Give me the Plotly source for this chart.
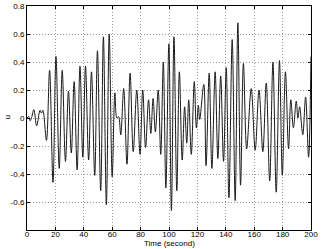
import plotly.graph_objects as go

# extrema of the response (time in s, u)
time = [
    0, 1.2, 2.2, 3.3, 4.8, 6.8, 9.2, 10.2, 11.2, 13.7,
    15.9, 18.3, 20.4, 22.7, 24.8, 27.1, 29.2, 31.2, 33.2, 35.3,
    37.3, 39.3, 41.2, 43.4, 45.4, 47.7, 49.6, 51.9, 53.8, 55.9,
    57.9, 60.0, 61.9, 63.3, 64.5, 66.0, 68.1, 70.4, 72.6, 74.8,
    77.3, 79.6, 81.5, 83.5, 85.6, 87.2, 88.8, 90.4, 92.4, 94.2,
    96.0, 97.8, 99.9, 101.7, 103.5, 105.5, 107.3, 109.3, 111.0, 112.5,
    113.9, 115.7, 117.8, 119.3, 120.7, 121.6, 124.5, 126.1, 128.3, 130.2,
    132.5, 134.4, 136.4, 138.4, 140.3, 142.2, 144.5, 146.6, 148.5, 150.4,
    152.4, 154.7, 157.9, 160.7, 163.4, 166.1, 168.5, 170.9, 173.2, 175.5,
    177.8, 179.8, 182.0, 184.2, 185.8, 187.6, 189.6, 190.8, 192.0, 194.2,
    196.2, 198.3, 200.0,
]
u = [
    0, 0.01, -0.02, 0.005, 0.06, -0.055, 0.055, 0.035, 0.055, -0.16,
    0.34, -0.46, 0.44, -0.36, 0.34, -0.31, 0.19, -0.25, 0.26, -0.37,
    0.37, -0.28, 0.37, -0.30, 0.33, -0.41, 0.48, -0.52, 0.58, -0.62,
    0.60, -0.42, 0.18, 0.0, 0.01, -0.12, 0.21, -0.33, 0.32, -0.24,
    0.20, -0.26, 0.20, -0.21, 0.13, -0.11, 0.14, -0.10, 0.20, -0.26,
    0.40, -0.50, 0.53, -0.66, 0.58, -0.52, 0.33, -0.30, 0.08, -0.18,
    0.13, -0.26, 0.26, -0.07, 0.09, -0.01, 0.24, -0.34, 0.32, -0.36,
    0.33, -0.29, 0.30, -0.31, 0.36, -0.57, 0.56, -0.59, 0.68, -0.48,
    0.39, -0.22, 0.21, -0.23, 0.20, -0.24, 0.25, -0.45, 0.40, -0.53,
    0.41, -0.41, 0.33, -0.22, 0.13, -0.07, 0.12, 0.0, 0.08, -0.12,
    0.15, -0.28, 0.44,
]

x_ticks = [0, 20, 40, 60, 80, 100, 120, 140, 160, 180, 200]
y_ticks = [-0.6, -0.4, -0.2, 0, 0.2, 0.4, 0.6, 0.8]
y_labels = ["-0.6", "-0.4", "-0.2", "0", "0.2", "0.4", "0.6", "0.8"]

fig = go.Figure()
fig.add_trace(
    go.Scatter(
        x=time,
        y=u,
        mode="lines",
        line=dict(color="#1a1a1a", width=1, shape="spline", smoothing=1),
        showlegend=False,
    )
)

axis_style = dict(
    showline=True,
    linecolor="black",
    linewidth=1,
    mirror="ticks",
    ticks="inside",
    ticklen=3,
    tickcolor="black",
    showgrid=True,
    gridcolor="#9a9a9a",
    griddash="1px,2px",
    gridwidth=1,
    zeroline=False,
    automargin=False,
    tickfont=dict(size=8, color="black"),
)

fig.update_layout(
    width=321,
    height=249,
    margin=dict(l=27, r=10, t=6, b=19),
    paper_bgcolor="white",
    plot_bgcolor="white",
    font=dict(family="Liberation Sans, Arial, sans-serif", size=8, color="black"),
)
fig.update_xaxes(range=[0, 200], tickvals=x_ticks, ticklabelstandoff=-4, **axis_style)
fig.update_yaxes(range=[-0.8, 0.8], tickvals=y_ticks, ticktext=y_labels, **axis_style)

# axis titles placed as annotations so they sit where the reference has them
fig.add_annotation(
    text="Time (second)", xref="paper", yref="paper", x=0.5, y=-0.061,
    xanchor="center", yanchor="middle", showarrow=False, font=dict(size=8),
)
fig.add_annotation(
    text="u", xref="paper", yref="paper", x=-0.072, y=0.5, textangle=-90,
    xanchor="center", yanchor="middle", showarrow=False, font=dict(size=8),
)

# the page body has a default 8px margin; drop it so the chart fills the window
fig.write_html(
    "out.html",
    config={"displayModeBar": False},
    post_script="document.body.style.margin='0';",
)
